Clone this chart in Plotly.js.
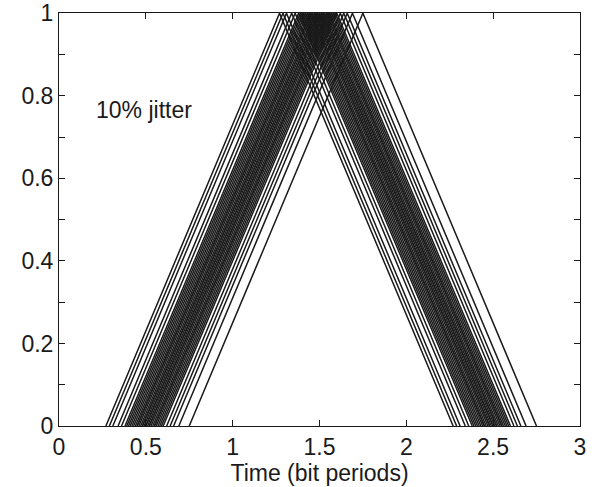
<!DOCTYPE html>
<html>
<head>
<meta charset="utf-8">
<script src="https://cdn.plot.ly/plotly-3.0.1.min.js"></script>
<style>html,body{margin:0;padding:0;background:#fff}#chart{width:594px;height:487px}</style>
</head>
<body>
<div id="chart"></div>
<script>
// Pulse start times (bit periods); each pulse rises for 1 period and falls for 1 period
const pulseStarts = [0.27,0.29,0.31,0.34,0.36,0.38,0.39,0.40,0.41,0.42,0.43,0.44,0.45,0.45,0.46,0.47,0.48,0.48,0.49,0.50,0.50,0.51,0.52,0.52,0.53,0.54,0.55,0.55,0.56,0.57,0.58,0.59,0.60,0.62,0.64,0.66,0.69,0.75];
const pulseShapeDt = [0, 1, 2];
const pulseShapeY = [0, 1, 0];
const xTicks = [0, 0.5, 1, 1.5, 2, 2.5, 3];
const yTicks = [0, 0.2, 0.4, 0.6, 0.8, 1];
const labelText = "10% jitter";
const xTitle = "Time (bit periods)";

const traces = pulseStarts.map(t => ({
  type: 'scatter', mode: 'lines',
  x: pulseShapeDt.map(d => t + d),
  y: pulseShapeY,
  line: {color: '#1a1a1a', width: 1.5},
  hoverinfo: 'skip', showlegend: false
}));

const fnt = {family: '"Liberation Sans", Arial, sans-serif', size: 23, color: '#1a1a1a'};
const layout = {
  width: 594, height: 487,
  margin: {l: 59, r: 14, t: 13, b: 61},
  paper_bgcolor: '#fff', plot_bgcolor: '#fff',
  font: fnt,
  showlegend: false,
  xaxis: {
    range: [0, 3.0005], tickvals: xTicks, ticktext: xTicks.map(String),
    ticks: 'inside', ticklen: 6, tickcolor: '#1a1a1a',
    showline: true, linecolor: '#1a1a1a', linewidth: 1, mirror: 'ticks',
    showgrid: false, zeroline: false, tickfont: fnt, automargin: false,
    ticklabeloverflow: 'allow',
    title: {text: xTitle, font: fnt, standoff: 0}
  },
  yaxis: {
    range: [0, 1.0005], tickvals: yTicks, ticktext: yTicks.map(String),
    ticks: 'inside', ticklen: 6, tickcolor: '#1a1a1a',
    minor: {dtick: 0.1, ticks: 'inside', ticklen: 6, tickcolor: '#1a1a1a', showgrid: false},
    showline: true, linecolor: '#1a1a1a', linewidth: 1, mirror: 'ticks',
    showgrid: false, zeroline: false, tickfont: fnt, automargin: false,
    ticklabeloverflow: 'allow'
  },
  annotations: [{
    x: 0.2, y: 0.765, xref: 'x', yref: 'y', text: labelText,
    showarrow: false, xanchor: 'left', yanchor: 'middle', font: fnt
  }]
};
Plotly.newPlot('chart', traces, layout, {staticPlot: true, displayModeBar: false});
</script>
</body>
</html>
